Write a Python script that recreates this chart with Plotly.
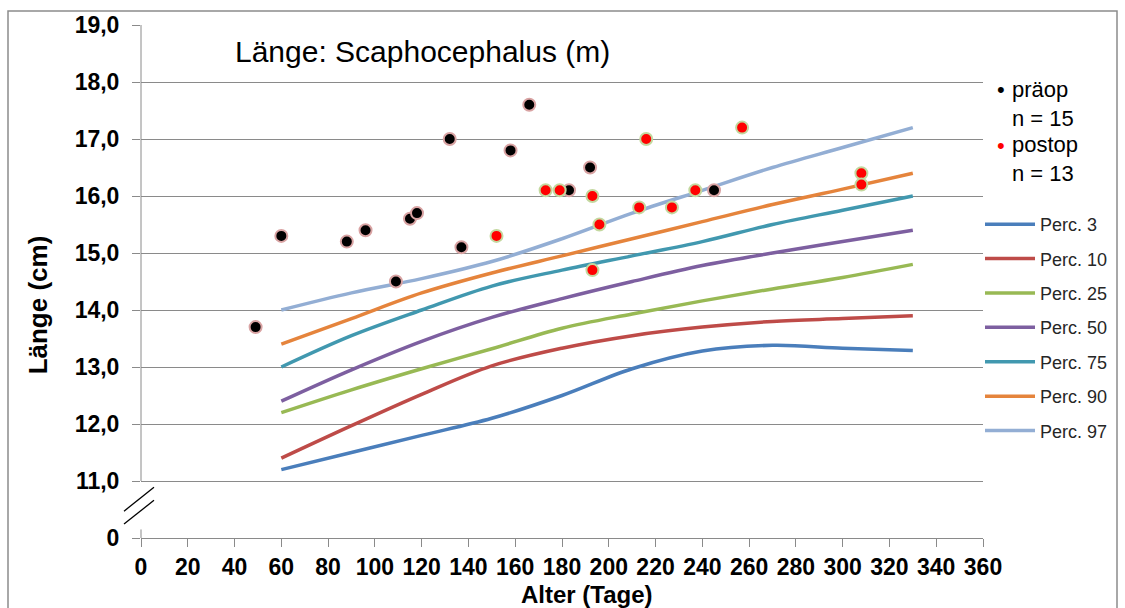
import plotly.graph_objects as go

# ---- data ----
pct_days = [60, 90, 120, 150, 180, 210, 240, 270, 300, 330]
perc_names = ["Perc. 3", "Perc. 10", "Perc. 25", "Perc. 50", "Perc. 75", "Perc. 90", "Perc. 97"]
p3 = [11.2, 11.5, 11.8, 12.1, 12.5, 12.97, 13.28, 13.38, 13.33, 13.29]
p10 = [11.4, 11.97, 12.52, 13.02, 13.33, 13.55, 13.7, 13.8, 13.85, 13.9]
p25 = [12.2, 12.6, 12.97, 13.32, 13.68, 13.93, 14.16, 14.37, 14.57, 14.8]
p50 = [12.4, 12.95, 13.45, 13.87, 14.2, 14.5, 14.78, 15.0, 15.2, 15.4]
p75 = [13.0, 13.55, 14.0, 14.42, 14.7, 14.95, 15.2, 15.5, 15.75, 16.0]
p90 = [13.4, 13.85, 14.3, 14.65, 14.95, 15.25, 15.55, 15.85, 16.12, 16.4]
p97 = [14.0, 14.3, 14.55, 14.85, 15.25, 15.7, 16.1, 16.5, 16.85, 17.2]
perc_colors = ["#4A7EBB", "#BE4B48", "#98B954", "#7D5FA0", "#4198AF", "#E5843C", "#93AED4"]

praeop_days = [49, 60, 88, 96, 109, 115, 118, 132, 137, 158, 166, 183, 192, 245]
praeop_len = [13.7, 15.3, 15.2, 15.4, 14.5, 15.6, 15.7, 17.0, 15.1, 16.8, 17.6, 16.1, 16.5, 16.1]
postop_days = [152, 173, 179, 193, 196, 193, 216, 213, 227, 237, 257, 308, 308]
postop_len = [15.3, 16.1, 16.1, 16.0, 15.5, 14.7, 17.0, 15.8, 15.8, 16.1, 17.2, 16.4, 16.2]

# y axis: value 10 stands for the broken-axis "0"
y_tickvals = [10, 11, 12, 13, 14, 15, 16, 17, 18, 19]
y_ticktext = ["0", "11,0", "12,0", "13,0", "14,0", "15,0", "16,0", "17,0", "18,0", "19,0"]
x_tickvals = list(range(0, 361, 20))

FONT = "Liberation Sans, Arial, sans-serif"
GRID = "#8A8A8A"

fig = go.Figure()
for name, vals, col in zip(perc_names, [p3, p10, p25, p50, p75, p90, p97], perc_colors):
    fig.add_trace(go.Scatter(
        x=pct_days, y=vals, mode="lines", name=name, legendgroup=name,
        line=dict(color=col, width=3.5, shape="spline", smoothing=1.0),
    ))

fig.add_trace(go.Scatter(
    x=praeop_days, y=praeop_len, mode="markers", name="präop", showlegend=False,
    marker=dict(color="black", size=12, line=dict(color="#D9A3A3", width=2)),
))
fig.add_trace(go.Scatter(
    x=postop_days, y=postop_len, mode="markers", name="postop", showlegend=False,
    marker=dict(color="#FF0000", size=12, line=dict(color="#C3D89F", width=2)),
))

L, R, T, B = 141, 142, 22, 70
W, H = 1125, 608
pw, ph = W - L - R, H - T - B


def px(xp):
    return (xp - L) / pw


def py(yp):
    return (H - B - yp) / ph


shapes = [
    # y axis line (broken)
    dict(type="line", xref="paper", yref="y", x0=0, x1=0, y0=11, y1=19,
         line=dict(color=GRID, width=1)),
    dict(type="line", xref="paper", yref="y", x0=0, x1=0, y0=10, y1=10.15,
         line=dict(color=GRID, width=1)),
    # break marks
    dict(type="line", xref="paper", yref="paper", x0=px(124), y0=py(511), x1=px(154), y1=py(487),
         line=dict(color="black", width=1.3)),
    dict(type="line", xref="paper", yref="paper", x0=px(124), y0=py(524), x1=px(154), y1=py(500),
         line=dict(color="black", width=1.3)),
    # outer chart border
    dict(type="rect", xref="paper", yref="paper", x0=px(8), y0=py(8), x1=px(1117), y1=py(640),
         line=dict(color="#8C8C8C", width=1.5), layer="below"),
]

annotations = [
    dict(text="Länge: Scaphocephalus (m)", xref="paper", yref="paper", x=px(422), y=py(49),
         xanchor="center", yanchor="middle", showarrow=False,
         font=dict(family=FONT, size=30, color="black")),
    dict(text="Länge (cm)", xref="paper", yref="paper", x=px(38), y=py(304), textangle=-90,
         xanchor="center", yanchor="middle", showarrow=False,
         font=dict(family=FONT, size=26, color="black", weight="bold")),
    dict(text="Alter (Tage)", xref="paper", yref="paper", x=px(587), y=py(595),
         xanchor="center", yanchor="middle", showarrow=False,
         font=dict(family=FONT, size=24, color="black", weight="bold")),
    dict(text="präop<br>n = 15", xref="paper", yref="paper", x=px(1010), y=py(101),
         xanchor="left", yanchor="middle", align="left", showarrow=False,
         font=dict(family=FONT, size=22, color="black")),
    dict(text="postop<br>n = 13", xref="paper", yref="paper", x=px(1010), y=py(157),
         xanchor="left", yanchor="middle", align="left", showarrow=False,
         font=dict(family=FONT, size=22, color="black")),
    dict(text="•", xref="paper", yref="paper", x=px(1001), y=py(87),
         xanchor="center", yanchor="middle", showarrow=False,
         font=dict(family=FONT, size=22, color="black")),
    dict(text="•", xref="paper", yref="paper", x=px(1001), y=py(143),
         xanchor="center", yanchor="middle", showarrow=False,
         font=dict(family=FONT, size=22, color="#FF0000")),
]

fig.update_layout(
    width=W, height=H,
    margin=dict(l=L, r=R, t=T, b=B, pad=0),
    paper_bgcolor="white", plot_bgcolor="white",
    font=dict(family=FONT, color="black"),
    showlegend=True,
    legend=dict(x=px(980), y=py(204), xanchor="left", yanchor="top",
                font=dict(family=FONT, size=18, color="#262626"),
                itemwidth=50,
                tracegroupgap=8, bgcolor="rgba(0,0,0,0)", borderwidth=0),
    shapes=shapes,
    annotations=annotations,
    xaxis=dict(range=[0, 360], tickvals=x_tickvals, ticks="outside", ticklen=8,
               tickcolor=GRID, showline=True, linecolor=GRID, linewidth=1,
               showgrid=False, zeroline=False, ticklabelstandoff=0,
               tickfont=dict(family=FONT, size=23, color="black", weight="bold")),
    yaxis=dict(range=[10, 19], tickvals=y_tickvals, ticktext=y_ticktext, ticks="outside",
               ticklen=8, tickcolor=GRID, showline=False, showgrid=True, gridcolor=GRID,
               gridwidth=1, zeroline=False, ticklabelstandoff=8,
               tickfont=dict(family=FONT, size=23, color="black", weight="bold")),
)

fig.write_html("out.html")
